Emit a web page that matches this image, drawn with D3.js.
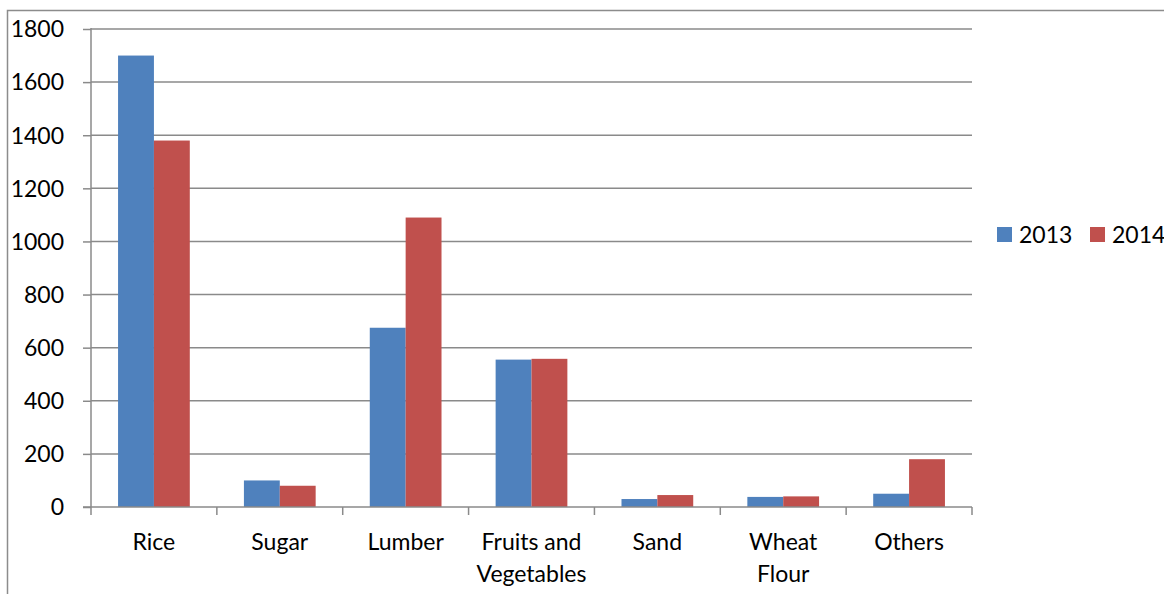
<!DOCTYPE html>
<html>
<head>
<meta charset="utf-8">
<script src="https://cdn.jsdelivr.net/npm/d3@7"></script>
<style>
  html, body { margin: 0; padding: 0; background: #fff; }
  svg { display: block; }
  text { font-family: Lato, "Open Sans", sans-serif; fill: #000; }
</style>
</head>
<body>
<svg id="chart" width="1164" height="594"></svg>
<script>
// Cargo volumes by commodity
const categories = ["Rice", "Sugar", "Lumber", "Fruits and Vegetables", "Sand", "Wheat Flour", "Others"];
const categoryLines = [["Rice"], ["Sugar"], ["Lumber"], ["Fruits and", "Vegetables"], ["Sand"], ["Wheat", "Flour"], ["Others"]];
const seriesNames = ["2013", "2014"];
const values2013 = [1700, 100, 675, 555, 30, 38, 50];
const values2014 = [1380, 80, 1090, 558, 45, 40, 180];
const yTicks = [0, 200, 400, 600, 800, 1000, 1200, 1400, 1600, 1800];
const colors = ["#4F81BD", "#C0504D"];
const fontSize = 23;

const svg = d3.select("#chart");
const plot = { left: 91, right: 972, top: 29, bottom: 507 };

// Outer frame (top and left edges visible)
svg.append("path")
  .attr("d", "M7.5,1000 V10.5 H1200")
  .attr("fill", "none").attr("stroke", "#8c8c8c").attr("stroke-width", 1.5);

const x = d3.scaleBand().domain(categories).range([plot.left, plot.right]).paddingInner(0).paddingOuter(0);
const y = d3.scaleLinear().domain([0, 1800]).range([plot.bottom, plot.top]);
const groupPad = 0.215;
const xSub = d3.scaleBand().domain(seriesNames)
  .range([x.bandwidth() * groupPad, x.bandwidth() * (1 - groupPad)]);

// Horizontal gridlines
svg.append("g").selectAll("line").data(yTicks.filter(d => d > 0)).join("line")
  .attr("x1", plot.left).attr("x2", plot.right)
  .attr("y1", d => y(d)).attr("y2", d => y(d))
  .attr("stroke", "#8a8a8a").attr("stroke-width", 1.5);

// Bars
const data = categories.map((c, i) => ({ cat: c, vals: [values2013[i], values2014[i]] }));
const groups = svg.append("g").selectAll("g").data(data).join("g")
  .attr("transform", d => `translate(${x(d.cat)},0)`);
groups.selectAll("rect").data(d => d.vals.map((v, j) => ({ key: seriesNames[j], v, j }))).join("rect")
  .attr("x", d => xSub(d.key))
  .attr("width", xSub.bandwidth())
  .attr("y", d => y(d.v))
  .attr("height", d => y(0) - y(d.v))
  .attr("fill", d => colors[d.j]);

// Y axis
const yAxis = d3.axisLeft(y).tickValues(yTicks).tickSize(8).tickPadding(19).tickFormat(d3.format("d"));
const gy = svg.append("g").attr("transform", `translate(${plot.left},0)`).call(yAxis);
gy.select(".domain").attr("stroke", "#8a8a8a").attr("stroke-width", 1.5).attr("d", `M0,${plot.top - 1}V${plot.bottom}`);
gy.selectAll(".tick line").attr("stroke", "#8a8a8a").attr("stroke-width", 1.5);
gy.selectAll(".tick text").attr("font-size", fontSize).attr("fill", "#000").attr("font-family", "Lato, sans-serif").attr("dy", "0.34em");

// X axis
const xAxis = d3.axisBottom(x).tickSize(0).tickFormat("");
const gx = svg.append("g").attr("transform", `translate(0,${plot.bottom})`).call(xAxis);
gx.select(".domain").attr("stroke", "#8a8a8a").attr("stroke-width", 1.5).attr("d", `M${plot.left - 8},0H${plot.right}`);
const boundaries = d3.range(categories.length + 1).map(i => plot.left + i * x.step());
gx.append("g").selectAll("line").data(boundaries).join("line")
  .attr("x1", d => d).attr("x2", d => d).attr("y1", 0).attr("y2", 8)
  .attr("stroke", "#8a8a8a").attr("stroke-width", 1.5);

// Category labels (wrapped)
const labels = svg.append("g").selectAll("text").data(categories).join("text")
  .attr("x", d => x(d) + x.bandwidth() / 2)
  .attr("y", 550)
  .attr("text-anchor", "middle")
  .attr("font-size", fontSize);
labels.each(function(d, i) {
  d3.select(this).selectAll("tspan").data(categoryLines[i]).join("tspan")
    .attr("x", x(d) + x.bandwidth() / 2)
    .attr("dy", (t, k) => k === 0 ? 0 : 32)
    .text(t => t);
});

// Legend
const legend = svg.append("g").attr("transform", "translate(997,227)");
const items = legend.selectAll("g").data(seriesNames).join("g")
  .attr("transform", (d, i) => `translate(${i * 93},0)`);
items.append("rect").attr("width", 15).attr("height", 15).attr("fill", (d, i) => colors[i]);
items.append("text").attr("x", 22).attr("y", 16).attr("font-size", fontSize).text(d => d);
</script>
</body>
</html>
